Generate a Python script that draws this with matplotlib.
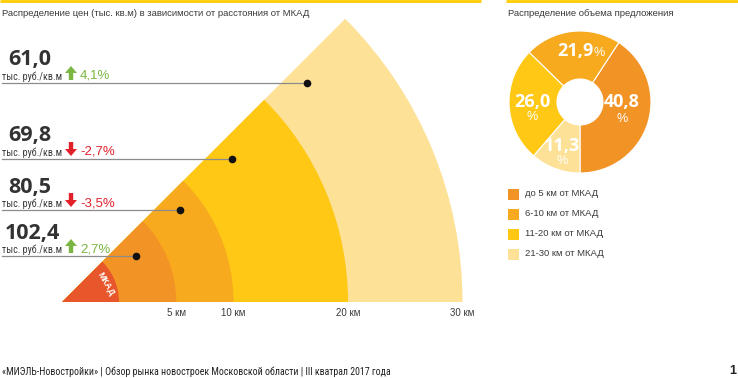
import numpy as np
import matplotlib
matplotlib.use("Agg")
import matplotlib.pyplot as plt
from matplotlib import font_manager
from matplotlib.patches import Wedge, Rectangle

# --- data -------------------------------------------------------------
band_km = [30, 20, 10, 5]               # outer edge of each ring, km from MKAD
band_colors = ["#FDE196", "#FFC814", "#F8AA1E", "#F29325"]
mkad_color = "#E8572B"
km_ticks = [5, 10, 20, 30]
km_tick_labels = ["5 км", "10 км", "20 км", "30 км"]

prices = ["61,0", "69,8", "80,5", "102,4"]           # тыс. руб./кв.м, outer -> inner
price_change = [4.1, -2.7, -3.5, 2.7]                # %
price_anchor_km = [23.7, 14.4, 8.1, 2.6]             # where the leader line points

share_values = [40.8, 21.9, 26.0, 11.3]
share_colors = ["#F29325", "#F8AA1E", "#FFC814", "#FDE196"]
share_labels = ["до 5 км от МКАД", "6-10 км от МКАД", "11-20 км от МКАД", "21-30 км от МКАД"]


def pick_font(names):
    for name in names:
        try:
            font_manager.findfont(name, fallback_to_default=False)
            return name
        except ValueError:
            continue
    return "DejaVu Sans"


NARROW = pick_font(["Liberation Sans Narrow", "Roboto Condensed", "Liberation Sans"])
SANS = pick_font(["Liberation Sans", "Roboto", "DejaVu Sans"])
BOLD = pick_font(["Open Sans", "Liberation Sans"])

DARK = "#3A3A3A"
GREEN = "#7BB642"
RED = "#E2202A"

fig = plt.figure(figsize=(7.38, 3.78), dpi=100)
ax = fig.add_axes([0, 0, 1, 1])
ax.set_xlim(0, 738)
ax.set_ylim(378, 0)
ax.axis("off")
ax.set_zorder(2)

# yellow rules at the very top
ax.plot([0, 481], [1.2, 1.2], color="#FFCC00", lw=2, solid_capstyle="butt")
ax.plot([506, 738], [1.2, 1.2], color="#FFCC00", lw=2, solid_capstyle="butt")

ax.text(2, 14, "Распределение цен (тыс. кв.м) в зависимости от расстояния от МКАД",
        family=SANS, fontsize=6.8, color=DARK, va="center")
ax.text(508, 14, "Распределение объема предложения",
        family=SANS, fontsize=6.8, color=DARK, va="center")

# --- sector chart -----------------------------------------------------
apex_x, apex_y = 62, 302
mkad_r = 57
px_per_km = 11.45


def radius(km):
    return mkad_r + px_per_km * km


for km, col in zip(band_km, band_colors):
    ax.add_patch(Wedge((apex_x, apex_y), radius(km), -45, 0, color=col, lw=0))
ax.add_patch(Wedge((apex_x, apex_y), mkad_r, -45, 0, color=mkad_color, lw=0))
ax.text(106, 284, "МКАД", color="white", fontsize=6.3, fontweight="bold",
        family=SANS, rotation=-60, ha="center", va="center")

for km, lab in zip(km_ticks, km_tick_labels):
    ax.text(apex_x + radius(km), 313, lab, family=SANS, fontsize=7,
            color=DARK, ha="center", va="center")

line_y = [83, 159, 210, 256]
for price, chg, akm, ly in zip(prices, price_change, price_anchor_km, line_y):
    r = radius(akm)
    dx = np.sqrt(r ** 2 - (apex_y - ly) ** 2)
    dot_x = apex_x + dx
    ax.plot([2, dot_x], [ly, ly], color="#8C8C8C", lw=0.9)
    ax.plot(dot_x, ly, "o", color="#111111", ms=4.5)

    ax.text(5 if len(price) > 4 else 8, ly - 23, price, family=BOLD,
            fontweight="bold", fontsize=15.5, color="#333333", va="center")
    ax.text(2, ly - 6, "тыс. руб./кв.м", family=NARROW, fontsize=7.2,
            color=DARK, va="center")
    col = GREEN if chg > 0 else RED
    if chg > 0:
        ax.arrow(71, ly - 3, 0, -14, width=4.4, head_width=12, head_length=7,
                 length_includes_head=True, color=col, lw=0)
    else:
        ax.arrow(71, ly - 17, 0, 14, width=4.4, head_width=12, head_length=7,
                 length_includes_head=True, color=col, lw=0)
    ax.text(80, ly - 7, f"{chg:.1f}%".replace(".", ","), family=SANS,
            fontsize=9.5, color=col, va="center")

# --- donut ------------------------------------------------------------
cx, cy, ro = 580, 102, 71
pax = fig.add_axes([(cx - ro) / 738, (378 - cy - ro) / 378, 2 * ro / 738, 2 * ro / 378])
pax.set_zorder(1)
pax.pie(share_values, colors=share_colors, startangle=-90, counterclock=True,
        radius=1, wedgeprops=dict(width=1 - 23 / ro, edgecolor="white", linewidth=0.8))
pax.set_xlim(-1, 1)
pax.set_ylim(-1, 1)
pax.axis("off")

num_kw = dict(family=BOLD, fontweight="bold", fontsize=13, color="white")
pct_kw = dict(family=SANS, fontsize=9, color="white")
txt = [f"{v:.1f}".replace(".", ",") for v in share_values]
# 40,8
ax.text(622, 102, txt[0], ha="center", va="center", **num_kw)
ax.text(622, 119, "%", ha="center", va="center", **pct_kw)
# 21,9 with inline %
ax.text(594, 56, txt[1], ha="right", va="baseline", **num_kw)
ax.text(594, 56, "%", ha="left", va="baseline", **pct_kw)
# 26,0
ax.text(532, 102, txt[2], ha="center", va="center", **num_kw)
ax.text(532, 117, "%", ha="center", va="center", **pct_kw)
# 11,3
ax.text(562, 146, txt[3], ha="center", va="center", **num_kw)
ax.text(562, 161, "%", ha="center", va="center", **pct_kw)

# legend
for i, (lab, col) in enumerate(zip(share_labels, share_colors)):
    y = 194 + 20 * i
    ax.add_patch(Rectangle((508, y - 5.5), 11, 11, color=col, lw=0))
    ax.text(525, y, lab, family=SANS, fontsize=6.8, color=DARK, va="center")

# --- footer -----------------------------------------------------------
ax.text(2, 372, "«МИЭЛЬ-Новостройки» | Обзор рынка новостроек Московской области | III кватрал 2017 года",
        family=NARROW, fontsize=7.1, color="#222222", va="center")
ax.text(736, 371, "1", family=SANS, fontweight="bold", fontsize=9, color="#222222",
        ha="right", va="center")

fig.savefig("out.png", dpi=100)
